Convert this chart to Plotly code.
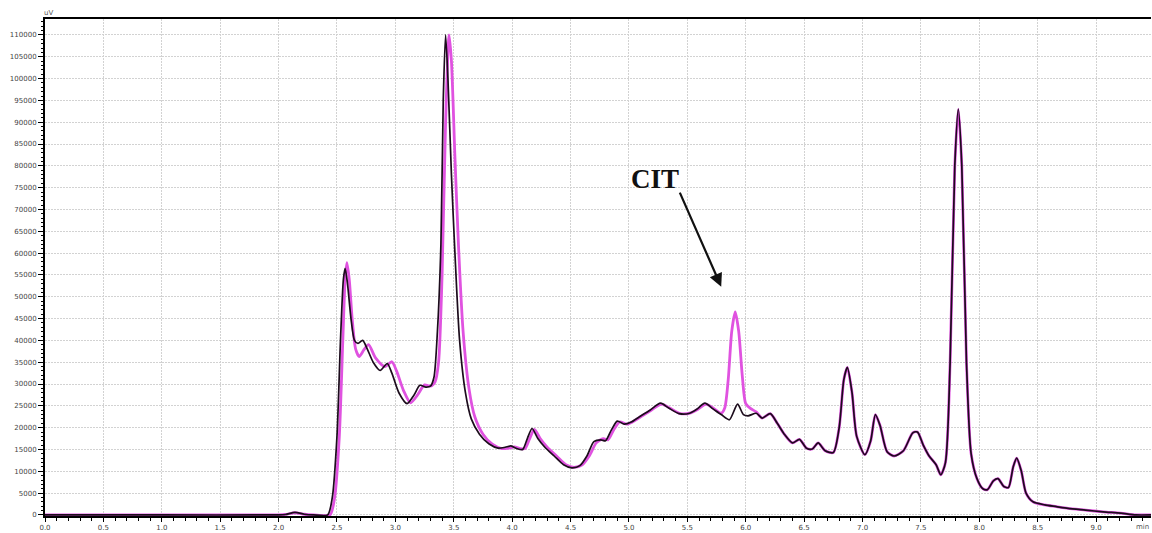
import plotly.graph_objects as go

# Chromatogram traces: retention time (min) vs detector signal (uV)
time_sample = [
    0.00, 1.00, 2.00, 2.06, 2.14, 2.22, 2.30, 2.42, 2.46, 2.50, 2.53, 2.555, 2.57, 2.59,
    2.62, 2.65, 2.68, 2.72, 2.76, 2.81, 2.87, 2.93, 2.97, 3.03, 3.10, 3.16, 3.21, 3.26,
    3.30, 3.33, 3.36, 3.39, 3.41, 3.43, 3.45, 3.48, 3.51, 3.55, 3.60, 3.65, 3.72, 3.80,
    3.88, 3.94, 3.99, 4.04, 4.09, 4.13, 4.17, 4.22, 4.28, 4.36, 4.44, 4.51, 4.58, 4.64,
    4.70, 4.76, 4.80, 4.85, 4.90, 4.96, 5.02, 5.09, 5.18, 5.27, 5.34, 5.43, 5.52, 5.58,
    5.65, 5.72, 5.79, 5.86, 5.93, 5.98, 6.02, 6.09, 6.14, 6.21, 6.27, 6.33, 6.40, 6.46,
    6.52, 6.57, 6.62, 6.68, 6.75, 6.80, 6.84, 6.87, 6.91, 6.95, 7.02, 7.07, 7.11, 7.15,
    7.21, 7.27, 7.35, 7.43, 7.47, 7.52, 7.57, 7.63, 7.67, 7.71, 7.75, 7.79, 7.82, 7.85,
    7.89, 7.93, 7.98, 8.03, 8.07, 8.12, 8.16, 8.21, 8.25, 8.29, 8.32, 8.36, 8.40, 8.46,
    8.56, 8.66, 8.76, 8.91, 9.06, 9.21, 9.34, 9.47,
]
signal_sample = [
    0, 0, 0, 100, 600, 150, 0, 0, 4000, 18000, 40000, 54000, 56500, 53000,
    45000, 40000, 39300, 40000, 38000, 35000, 33100, 34700, 32500, 28000, 25500, 27500, 29700, 29300,
    29500, 31500, 42000, 62000, 95000, 110000, 100000, 78000, 60000, 40000, 28000, 22000, 18500, 16300,
    15300, 15500, 15800, 15200, 15000, 17500, 19800, 17500, 15500, 13500, 11500, 10800, 11300, 13500,
    16800, 17200, 17000, 19500, 21500, 20800, 21300, 22500, 24000, 25600, 24500, 23200, 23300, 24200,
    25600, 24300, 23000, 21800, 25400, 23000, 22700, 23300, 22200, 23200, 21000, 18500, 16500, 17300,
    15300, 15100, 16500, 14700, 14300, 20000, 31000, 33800, 28000, 18000, 13800, 17000, 23000, 20500,
    14500, 13500, 14700, 18800, 19000, 16000, 13500, 11500, 9200, 12000, 35000, 80000, 93000, 80000,
    35000, 14000, 8300, 6000, 5800, 7800, 8300, 6500, 6300, 11000, 13000, 10000, 5000, 3000,
    2300, 1900, 1500, 1100, 700, 400, 0, 0,
]

time_spiked = [
    0.00, 1.00, 2.00, 2.06, 2.14, 2.22, 2.30, 2.44, 2.48, 2.52, 2.55, 2.57, 2.585, 2.605,
    2.63, 2.66, 2.69, 2.73, 2.77, 2.83, 2.91, 2.97, 3.01, 3.07, 3.13, 3.19, 3.25, 3.30,
    3.34, 3.37, 3.40, 3.43, 3.46, 3.48, 3.51, 3.54, 3.58, 3.63, 3.68, 3.75, 3.83, 3.91,
    3.97, 4.02, 4.07, 4.11, 4.15, 4.19, 4.24, 4.30, 4.38, 4.46, 4.53, 4.60, 4.66, 4.72,
    4.78, 4.82, 4.87, 4.92, 4.98, 5.03, 5.10, 5.19, 5.28, 5.35, 5.44, 5.53, 5.59, 5.66,
    5.73, 5.79, 5.82, 5.85, 5.88, 5.91, 5.94, 5.97, 6.00, 6.04, 6.09, 6.14, 6.21, 6.27,
    6.33, 6.40, 6.46, 6.52, 6.57, 6.62, 6.68, 6.75, 6.80, 6.84, 6.87, 6.91, 6.95, 7.02,
    7.07, 7.11, 7.15, 7.21, 7.27, 7.35, 7.43, 7.47, 7.52, 7.57, 7.63, 7.67, 7.71, 7.75,
    7.79, 7.82, 7.85, 7.89, 7.93, 7.98, 8.03, 8.07, 8.12, 8.16, 8.21, 8.25, 8.29, 8.32,
    8.36, 8.40, 8.46, 8.56, 8.66, 8.76, 8.91, 9.06, 9.21, 9.34, 9.47,
]
signal_spiked = [
    0, 0, 0, 100, 500, 150, 0, 0, 4000, 18000, 40000, 54000, 57800, 54000,
    45000, 38000, 36300, 37800, 39000, 36000, 34000, 35100, 33000, 28500, 25700, 27500, 29800, 29500,
    30500, 35000, 55000, 90000, 110000, 104000, 82000, 62000, 42000, 29000, 22500, 18500, 16200, 15200,
    15300, 15600, 15200, 15200, 17500, 19600, 17500, 15500, 13500, 11500, 10900, 11500, 13500, 16500,
    17500, 17200, 19500, 21300, 20800, 21300, 22500, 24000, 25400, 24500, 23200, 23400, 24200, 25400,
    24300, 23300, 24500, 31000, 42000, 46500, 42000, 32000, 25500, 24400, 23600, 22200, 23200, 21000,
    18500, 16500, 17300, 15300, 15100, 16500, 14700, 14300, 20000, 31000, 33800, 28000, 18000, 13800,
    17000, 23000, 20500, 14500, 13500, 14700, 18800, 19000, 16000, 13500, 11500, 9200, 12000, 35000,
    80000, 93000, 80000, 35000, 14000, 8300, 6000, 5800, 7800, 8300, 6500, 6300, 11000, 13000,
    10000, 5000, 3000, 2300, 1900, 1500, 1100, 700, 400, 0, 0,
]

y_tick_values = list(range(0, 110001, 5000))
y_tick_labels = [str(v) for v in y_tick_values]
x_tick_values = [i * 0.5 for i in range(19)]
x_tick_labels = [f"{v:.1f}" for v in x_tick_values]

fig = go.Figure()
fig.add_trace(go.Scatter(
    x=time_spiked, y=signal_spiked, mode="lines",
    line=dict(color="#e052e0", width=2.8, shape="spline", smoothing=0.7),
    hoverinfo="skip", showlegend=False,
))
fig.add_trace(go.Scatter(
    x=time_sample, y=signal_sample, mode="lines",
    line=dict(color="#1c0c1c", width=1.7, shape="spline", smoothing=0.7),
    hoverinfo="skip", showlegend=False,
))

tick_font = dict(family="DejaVu Sans", size=7, color="#444444")

fig.update_xaxes(
    range=[0, 9.47],
    tickmode="array", tickvals=x_tick_values, ticktext=x_tick_labels,
    ticks="outside", ticklen=4, tickwidth=1, tickcolor="#000",
    minor=dict(dtick=0.1, tick0=0, ticks="outside", ticklen=3, tickcolor="#000", showgrid=False),
    showline=True, linecolor="#000", linewidth=2, mirror=True,
    showgrid=True, gridcolor="#d2d2d2", gridwidth=1, griddash="2px,1px",
    zeroline=False, tickfont=tick_font,
)
fig.update_yaxes(
    range=[-250, 113650],
    tickmode="array", tickvals=y_tick_values, ticktext=y_tick_labels,
    ticks="outside", ticklen=5, tickwidth=1, tickcolor="#000",
    minor=dict(dtick=1000, tick0=0, ticks="outside", ticklen=2, tickcolor="#000", showgrid=False),
    showline=True, linecolor="#000", linewidth=2,
    showgrid=True, gridcolor="#d2d2d2", gridwidth=1, griddash="2px,1px",
    zeroline=False, tickfont=tick_font,
)

fig.add_annotation(
    x=5.79, y=52300, ax=5.43, ay=74200, axref="x", ayref="y",
    text="", showarrow=True, arrowhead=2, arrowsize=1.2, arrowwidth=2.2, arrowcolor="#111",
)
fig.add_annotation(
    x=5.22, y=77000, text="<b>CIT</b>", showarrow=False,
    font=dict(family="Liberation Serif", size=27, color="#111"),
)
fig.add_annotation(
    xref="paper", yref="paper", x=0, y=1, xanchor="left", yanchor="bottom",
    xshift=-3, yshift=0, text="uV", showarrow=False,
    font=dict(family="DejaVu Sans", size=7, color="#555"),
)
fig.add_annotation(
    xref="paper", yref="paper", x=1, y=0, xanchor="right", yanchor="top",
    yshift=-5, text="min", showarrow=False,
    font=dict(family="DejaVu Sans", size=7, color="#555"),
)

fig.update_layout(
    width=1152, height=533,
    margin=dict(l=45, r=1, t=19, b=15),
    paper_bgcolor="white", plot_bgcolor="white",
)

fig.write_html("out.html")
